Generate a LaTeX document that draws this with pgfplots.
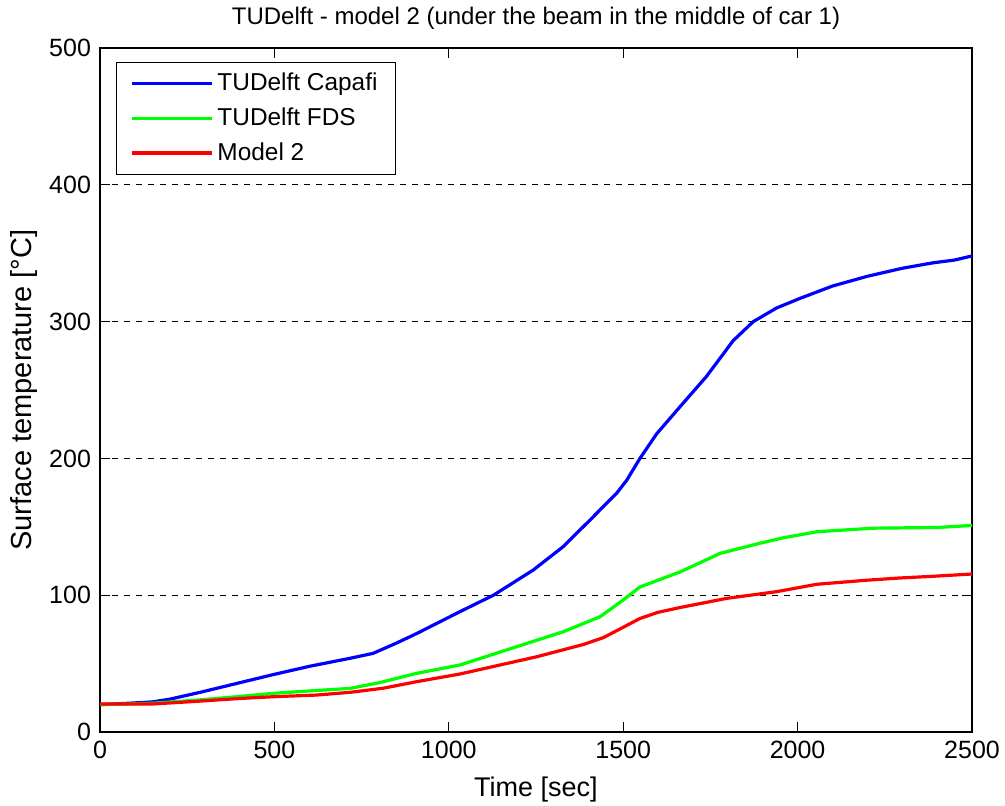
\documentclass[border=0pt]{standalone}
\usepackage{pgfplots}
\pgfplotsset{compat=1.18}
\usepackage{fontspec}
\setmainfont{Liberation Sans}
\begin{document}
\begin{tikzpicture}
\begin{axis}[
  scale only axis,
  width=436pt, height=342pt,
  xmin=0, xmax=2500, ymin=0, ymax=500,
  xtick={0,500,1000,1500,2000,2500},
  ytick={0,100,200,300,400,500},
  tick align=inside,
  major tick length=5pt,
  axis line style={black, line width=0.8pt},
  tick style={black, line width=0.6pt},
  ymajorgrids,
  grid style={black, dashed, line width=0.6pt},
  every tick label/.append style={font=\fontsize{12.5}{14}\selectfont},
  /pgf/number format/assume math mode=true,
  scaled ticks=false,
  xticklabel style={/pgf/number format/1000 sep={}, yshift=-1pt},
  yticklabel style={xshift=-1pt},
  xlabel={Time [sec]},
  ylabel={Surface temperature [°C]},
  every axis x label/.style={at={(rel axis cs:0.5,0)}, yshift=-29pt, anchor=center, font=\fontsize{13.5}{15}\selectfont},
  every axis y label/.style={at={(rel axis cs:0,0.5)}, xshift=-38pt, rotate=90, anchor=center, font=\fontsize{14.5}{16}\selectfont},
  title={TUDelft - model 2 (under the beam in the middle of car 1)},
  every axis title/.style={at={(rel axis cs:0.5,1)}, yshift=15pt, anchor=center, font=\fontsize{12}{14}\selectfont},
  legend style={at={(0.018,0.98)}, anchor=north west, draw=black, line width=0.6pt,
    font=\fontsize{12.2}{14}\selectfont, row sep=3pt, inner xsep=7pt, inner ysep=3.5pt},
  legend cell align=left,
  legend image code/.code={\draw[#1, line width=1.6pt] (0pt,0pt) -- (40pt,0pt);},
]
\addplot[blue, line width=1.6pt] coordinates {
(0,20) (80,21) (150,22) (200,24) (287,29) (400,36) (497,42) (600,48) (717,53.9) (783,57.5)
(850,65) (908,72) (1032,88) (1128,100) (1242,118.4) (1328,135.5) (1405,155)
(1481,174.5) (1510,184) (1548,200) (1596,218) (1663,237.8) (1739,260) (1815,286) (1873,300) (1940,310)
(2007,317) (2100,326) (2198,333) (2300,339) (2389,343) (2450,345) (2500,348)
};
\addlegendentry{TUDelft Capafi}
\addplot[green, line width=1.6pt] coordinates {
(0,20) (150,21) (287,23.5) (400,26) (497,28.3) (600,30) (717,31.9) (800,36) (908,42.9)
(1032,49) (1195,62.4) (1328,73.3) (1434,84.3) (1500,96.5) (1548,106) (1600,111) (1663,117)
(1778,130.6) (1892,138) (1960,142) (2055,146.4) (2217,149) (2400,149.5) (2500,151)
};
\addlegendentry{TUDelft FDS}
\addplot[red, line width=1.6pt] coordinates {
(0,20.5) (153,20.5) (287,22.6) (400,24.5) (497,25.8) (620,27) (717,29) (812,32) (908,36.8)
(1032,42.4) (1147,49) (1252,55) (1386,64) (1443,69) (1481,74) (1548,83) (1600,87.5) (1663,91)
(1797,97.7) (1940,102.6) (2055,108) (2200,111) (2294,112.6) (2400,114) (2500,115.5)
};
\addlegendentry{Model 2}
\end{axis}
\pgfresetboundingbox
\path (-50pt,-36.5pt) rectangle (452.5pt,366pt);
\end{tikzpicture}
\end{document}
